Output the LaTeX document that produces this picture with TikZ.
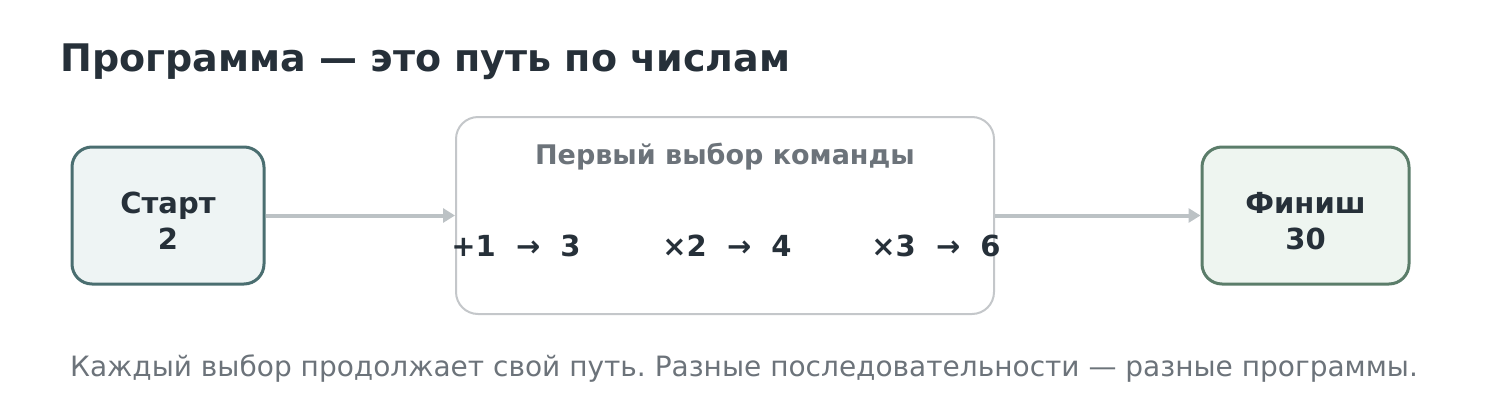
\documentclass[tikz,border=0pt]{standalone}
\usepackage{fontspec}
\setmainfont{DejaVu Sans}
\usetikzlibrary{arrows.meta, positioning}
\definecolor{ink}{HTML}{263039}
\definecolor{muted}{HTML}{6C737A}
\definecolor{startline}{HTML}{4A6E70}
\definecolor{startfill}{HTML}{EEF4F4}
\definecolor{finishline}{HTML}{5B7D6A}
\definecolor{finishfill}{HTML}{EEF5F0}
\definecolor{frame}{HTML}{C4C7CA}
\definecolor{link}{HTML}{BCC2C5}
\frenchspacing

\begin{document}
\begin{tikzpicture}[x=1pt, y=-1pt,
        endbox/.style={draw, line width=3pt, rounded corners=20pt, minimum height=137pt,
            align=center, font=\fontsize{29}{36}\selectfont\bfseries, text=ink},
        choicebox/.style={draw=frame, line width=2pt, rounded corners=22pt, fill=white,
            minimum width=538pt, minimum height=197pt},
        option/.style={anchor=base, font=\fontsize{29}{32}\selectfont\bfseries, text=ink},
        link/.style={draw=link, line width=4pt, -{Triangle[length=12pt, width=14pt]}}]
        \useasboundingbox (0,0) rectangle (1500,410);
        \node[anchor=base west, font=\fontsize{38}{42}\selectfont\bfseries, text=ink]
            (title) at (57,71) {Программа — это путь по числам};
        \node[endbox, draw=startline, fill=startfill, minimum width=192pt]
            (start) at (168,215.5) {\rule{0pt}{32pt}Старт\\2};
        \node[choicebox] (choice) at (725,215.5) {};
        \node[endbox, draw=finishline, fill=finishfill, minimum width=207pt]
            (finish) at (1305.5,215.5) {\rule{0pt}{32pt}Финиш\\30};
        \node[anchor=base, font=\fontsize{27}{30}\selectfont\bfseries, text=muted]
            (header) at (725,164) {Первый выбор команды};
        \node[option] (plus) at (516,256) {+1\ \ →\ \ 3};
        \node[option] (twice) at (727,256) {×2\ \ →\ \ 4};
        \node[option] (thrice) at (936,256) {×3\ \ →\ \ 6};
        \draw[link] (start.east) -- (choice.west);
        \draw[link] (choice.east) -- (finish.west);
        \node[anchor=base, font=\fontsize{28}{30}\selectfont, text=muted]
            (caption) at (744,376) {Каждый выбор продолжает свой путь. Разные последовательности — разные программы.};
    \end{tikzpicture}
\end{document}
